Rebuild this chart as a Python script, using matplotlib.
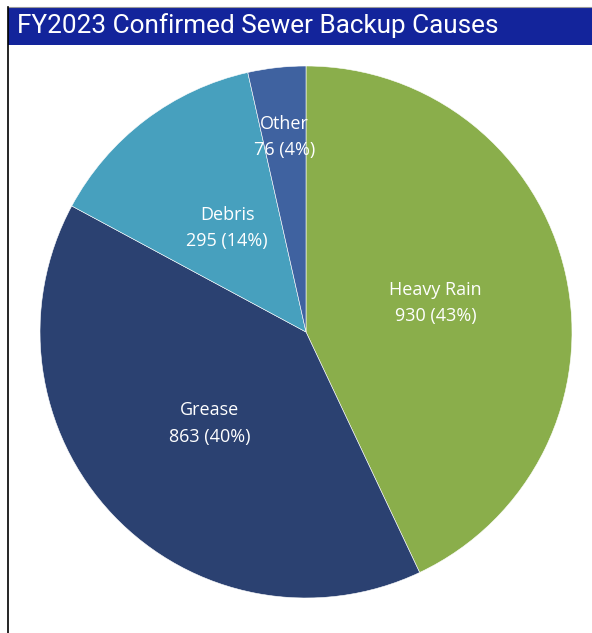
import matplotlib
matplotlib.use("Agg")
import matplotlib.pyplot as plt
from matplotlib.patches import Rectangle
import numpy as np

# Sewer backup causes, FY2023
causes = ["Heavy Rain", "Grease", "Debris", "Other"]
counts = [930, 863, 295, 76]
colors = ["#8AAE4B", "#2B4171", "#47A0BE", "#3F62A0"]

W, H = 592, 633
fig = plt.figure(figsize=(W / 100, H / 100), dpi=100)
fig.patch.set_facecolor("white")

# Title banner and frame
fig.add_artist(Rectangle((8 / W, 1 - 45 / H), 1 - 8 / W, 38 / H,
                         transform=fig.transFigure, facecolor="#13249B",
                         edgecolor="none"))
fig.add_artist(plt.Line2D([8 / W, 1], [1 - 6.5 / H, 1 - 6.5 / H],
                          transform=fig.transFigure, color="#9a9a9a", lw=0.8))
fig.add_artist(plt.Line2D([7.5 / W, 7.5 / W], [0, 1 - 7 / H],
                          transform=fig.transFigure, color="black", lw=1.2))
fig.text(17 / W, 1 - 25.5 / H, "FY2023 Confirmed Sewer Backup Causes",
         color="white", fontsize=18.8, family="Roboto", va="center", ha="left")

# Pie
cx, cy, r = 306, 332, 266
ax = fig.add_axes([(cx - r) / W, (H - cy - r) / H, 2 * r / W, 2 * r / H])
wedges, _ = ax.pie(counts, colors=colors, startangle=90, counterclock=False,
                   radius=1, wedgeprops=dict(linewidth=0.4, edgecolor="white"))
ax.set_xlim(-1, 1)
ax.set_ylim(-1, 1)
ax.set_aspect("equal")
ax.axis("off")

total = sum(counts)
label_dist = [0.5, 0.5, 0.49, 0.737]
for w, name, val, d in zip(wedges, causes, counts, label_dist):
    mid = np.deg2rad((w.theta1 + w.theta2) / 2)
    pct = round(100 * val / total)
    ax.text(d * np.cos(mid), d * np.sin(mid), f"{name}\n{val} ({pct}%)",
            ha="center", va="center", color="white", fontsize=13,
            family="Open Sans", linespacing=1.6)

fig.savefig("out.png", dpi=100, facecolor="white")
